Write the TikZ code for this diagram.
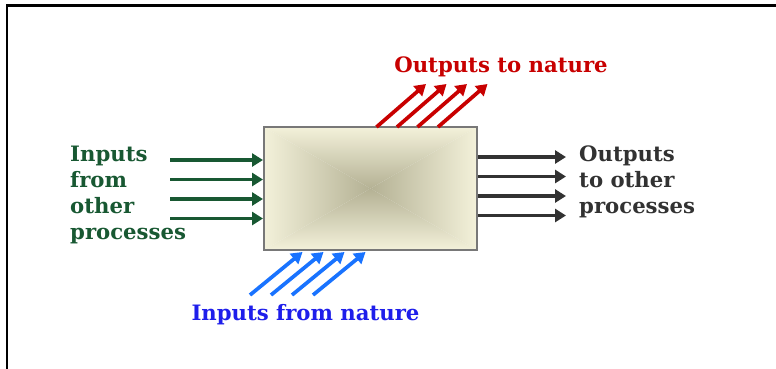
\documentclass[tikz,border=0pt]{standalone}
\usepackage{fontspec}
\setmainfont{DejaVu Serif}
\usetikzlibrary{arrows.meta}
\definecolor{ingreen}{RGB}{24,88,50}
\definecolor{outred}{RGB}{200,0,0}
\definecolor{natblue}{RGB}{25,115,255}
\definecolor{textblue}{RGB}{30,30,235}
\definecolor{outgray}{RGB}{50,50,50}
\definecolor{boxedge}{RGB}{243,241,218}
\definecolor{boxmid}{RGB}{180,177,148}
\definecolor{boxline}{RGB}{120,120,120}
\tikzset{
  lbl/.style={inner sep=0pt, font=\fontsize{21.2}{26}\selectfont\bfseries},
  arr/.style={line width=3.7pt, -{Triangle[length=11pt,width=13pt]}},
}
\begin{document}
\begin{tikzpicture}[x=1pt,y=-1pt]
\useasboundingbox (0,0) rectangle (776,368);
\fill[white] (0,0) rectangle (776,368);
% frame
\draw[line width=2.6pt] (7,370) -- (7,5.5) -- (778,5.5);
% box shading (pyramid)
\coordinate (c) at (370.5,188.5);
\shade[top color=boxedge, bottom color=boxmid] (264,127) -- (477,127) -- (c) -- cycle;
\shade[top color=boxmid, bottom color=boxedge] (264,250) -- (477,250) -- (c) -- cycle;
\shade[left color=boxedge, right color=boxmid] (264,127) -- (264,250) -- (c) -- cycle;
\shade[left color=boxmid, right color=boxedge] (477,127) -- (477,250) -- (c) -- cycle;
\node[draw=boxline, line width=2pt, minimum width=213pt, minimum height=123pt, inner sep=0pt] (box) at (370.5,188.5) {};
% labels
\node[lbl, text=ingreen, align=left, anchor=north west] (inproc) at (70,145.5) {Inputs\\from\\other\\processes};
\node[lbl, text=outgray, align=left, anchor=north west] (outproc) at (579,145.5) {Outputs\\to other\\processes};
\node[lbl, text=outred, anchor=base] (outnat) at (501,72) {Outputs to nature};
\node[lbl, text=textblue, anchor=base] (innat) at (305.5,320) {Inputs from nature};
% green input arrows
\foreach \i/\y in {1/160,2/179.5,3/199,4/218.5}{
  \coordinate (gs\i) at (170,\y);
  \draw[arr, draw=ingreen] (gs\i) -- (box.west |- gs\i);
}
% gray output arrows
\foreach \i/\y in {1/157,2/176.5,3/196,4/215.5}{
  \coordinate (os\i) at (566,\y);
  \draw[arr, draw=outgray] (box.east |- os\i) -- (os\i);
}
% red output arrows
\foreach \i/\x in {1/376.5,2/397,3/417.5,4/438}{
  \coordinate (rs\i) at (\x,127);
  \coordinate (re\i) at (\x+49.5,84);
  \draw[arr, draw=outred] (rs\i) -- (re\i);
}
% blue input arrows
\foreach \i/\x in {1/250,2/271,3/292,4/313}{
  \coordinate (bs\i) at (\x,295);
  \coordinate (be\i) at (\x+52.5,252);
  \draw[arr, draw=natblue] (bs\i) -- (be\i);
}
\end{tikzpicture}
\end{document}
